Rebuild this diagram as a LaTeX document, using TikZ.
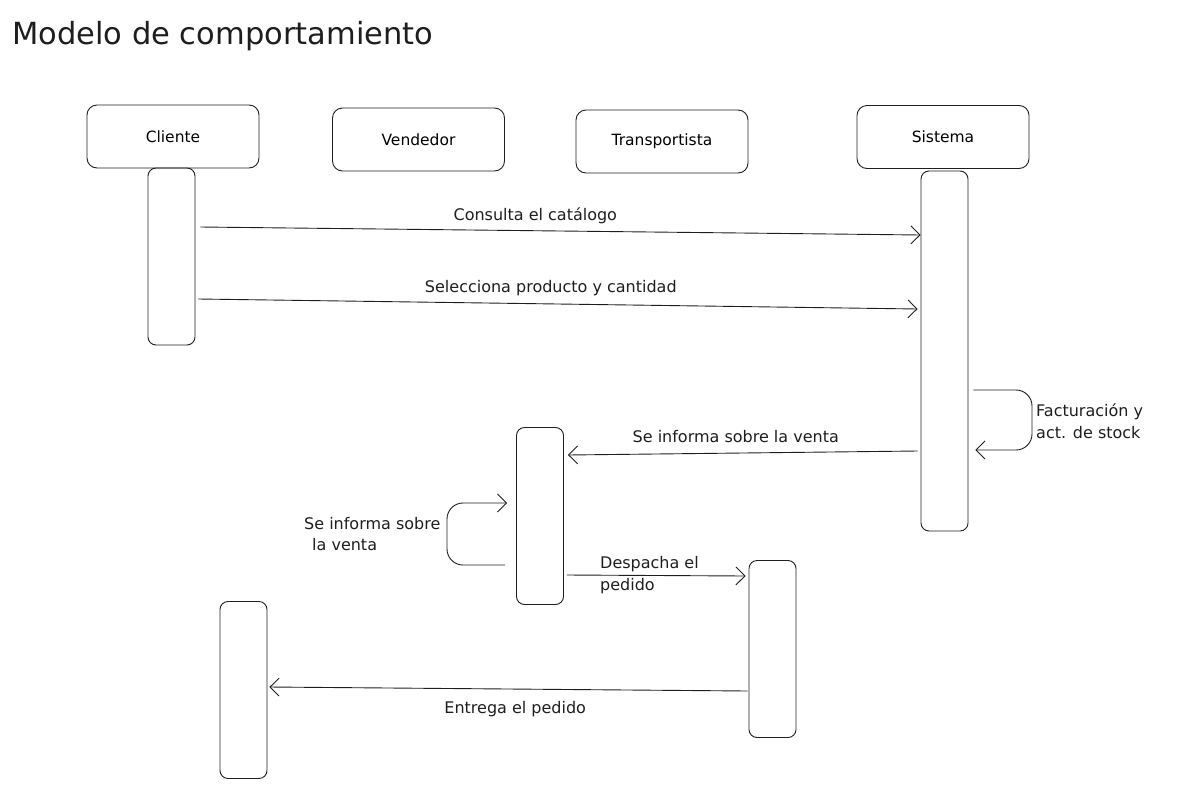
\documentclass[tikz,border=0pt]{standalone}
\usepackage{fontspec}
\setmainfont{DejaVu Sans}
\usetikzlibrary{arrows.meta,positioning}
\definecolor{ink}{HTML}{1E1E1E}

\begin{document}
\begin{tikzpicture}[x=1pt,y=-1pt,
  actor/.style={draw=ink,line width=0.9pt,rounded corners=10pt,minimum width=172pt,minimum height=63pt,font=\fontsize{15.5}{18}\selectfont},
  bar/.style={draw=ink,line width=0.9pt,rounded corners=8pt,minimum width=47pt,minimum height=177pt},
  msg/.style={draw=ink,line width=0.9pt,-{Straight Barb[length=9pt,width=18pt]}},
  lbl/.style={font=\fontsize{16}{21.5}\selectfont,text=ink,inner sep=0pt}]
\useasboundingbox (0,0) rectangle (1180,798);
\node[font=\fontsize{30.5}{36}\selectfont,text=ink,anchor=west,inner sep=0pt] (titulo) at (12,36) {Modelo de comportamiento};
% lifeline heads
\node[actor] (cli) at (173,136.5) {Cliente};
\node[actor] (ven) at (418.5,139.5) {Vendedor};
\node[actor] (tra) at (662,141.5) {Transportista};
\node[actor] (sis) at (943,137) {Sistema};
% activation bars
\node[bar] (cli1) at (171.5,256.5) {};
\node[bar,minimum height=360pt] (sis1) at (944.5,351) {};
\node[bar] (ven1) at (540,516) {};
\node[bar] (tra1) at (772.5,649) {};
\node[bar] (cli2) at (243.5,690) {};
% messages
\draw[msg] ([xshift=5pt]cli1.east |- 0,227) -- (sis1.west |- 0,235)
  node[lbl,pos=0.465,above=6pt] {Consulta el catálogo};
\draw[msg] ([xshift=3pt]cli1.east |- 0,299) -- ([xshift=-3pt]sis1.west |- 0,309)
  node[lbl,pos=0.49,above=8pt] {Selecciona producto y cantidad};
\draw[msg,rounded corners=16pt] ([xshift=5pt]sis1.east |- 0,390) -- (1032,390) -- (1032,450) -- ([xshift=7pt]sis1.east |- 0,450);
\node[lbl,align=left,anchor=west] (fac) at (1036,421) {Facturación y\\act. de stock};
\draw[msg] ([xshift=-3pt]sis1.west |- 0,451) -- ([xshift=4pt]ven1.east |- 0,455)
  node[lbl,pos=0.52,above=10pt] {Se informa sobre la venta};
\draw[msg,rounded corners=16pt] ([xshift=-11pt]ven1.west |- 0,565) -- (447,565) -- (447,503) -- ([xshift=-9pt]ven1.west |- 0,503);
\node[lbl,align=left,anchor=west] (inf) at (304,534) {Se informa sobre\\\hspace*{8pt}la venta};
\draw[msg] ([xshift=3pt]ven1.east |- 0,575) -- ([xshift=-3pt]tra1.west |- 0,576);
\node[lbl,align=left,anchor=west] (des) at (600,575) {Despacha el\\pedido};
\draw[msg] ([xshift=-1pt]tra1.west |- 0,691) -- ([xshift=2pt]cli2.east |- 0,687)
  node[lbl,pos=0.486,below=12pt] {Entrega el pedido};
\end{tikzpicture}
\end{document}
